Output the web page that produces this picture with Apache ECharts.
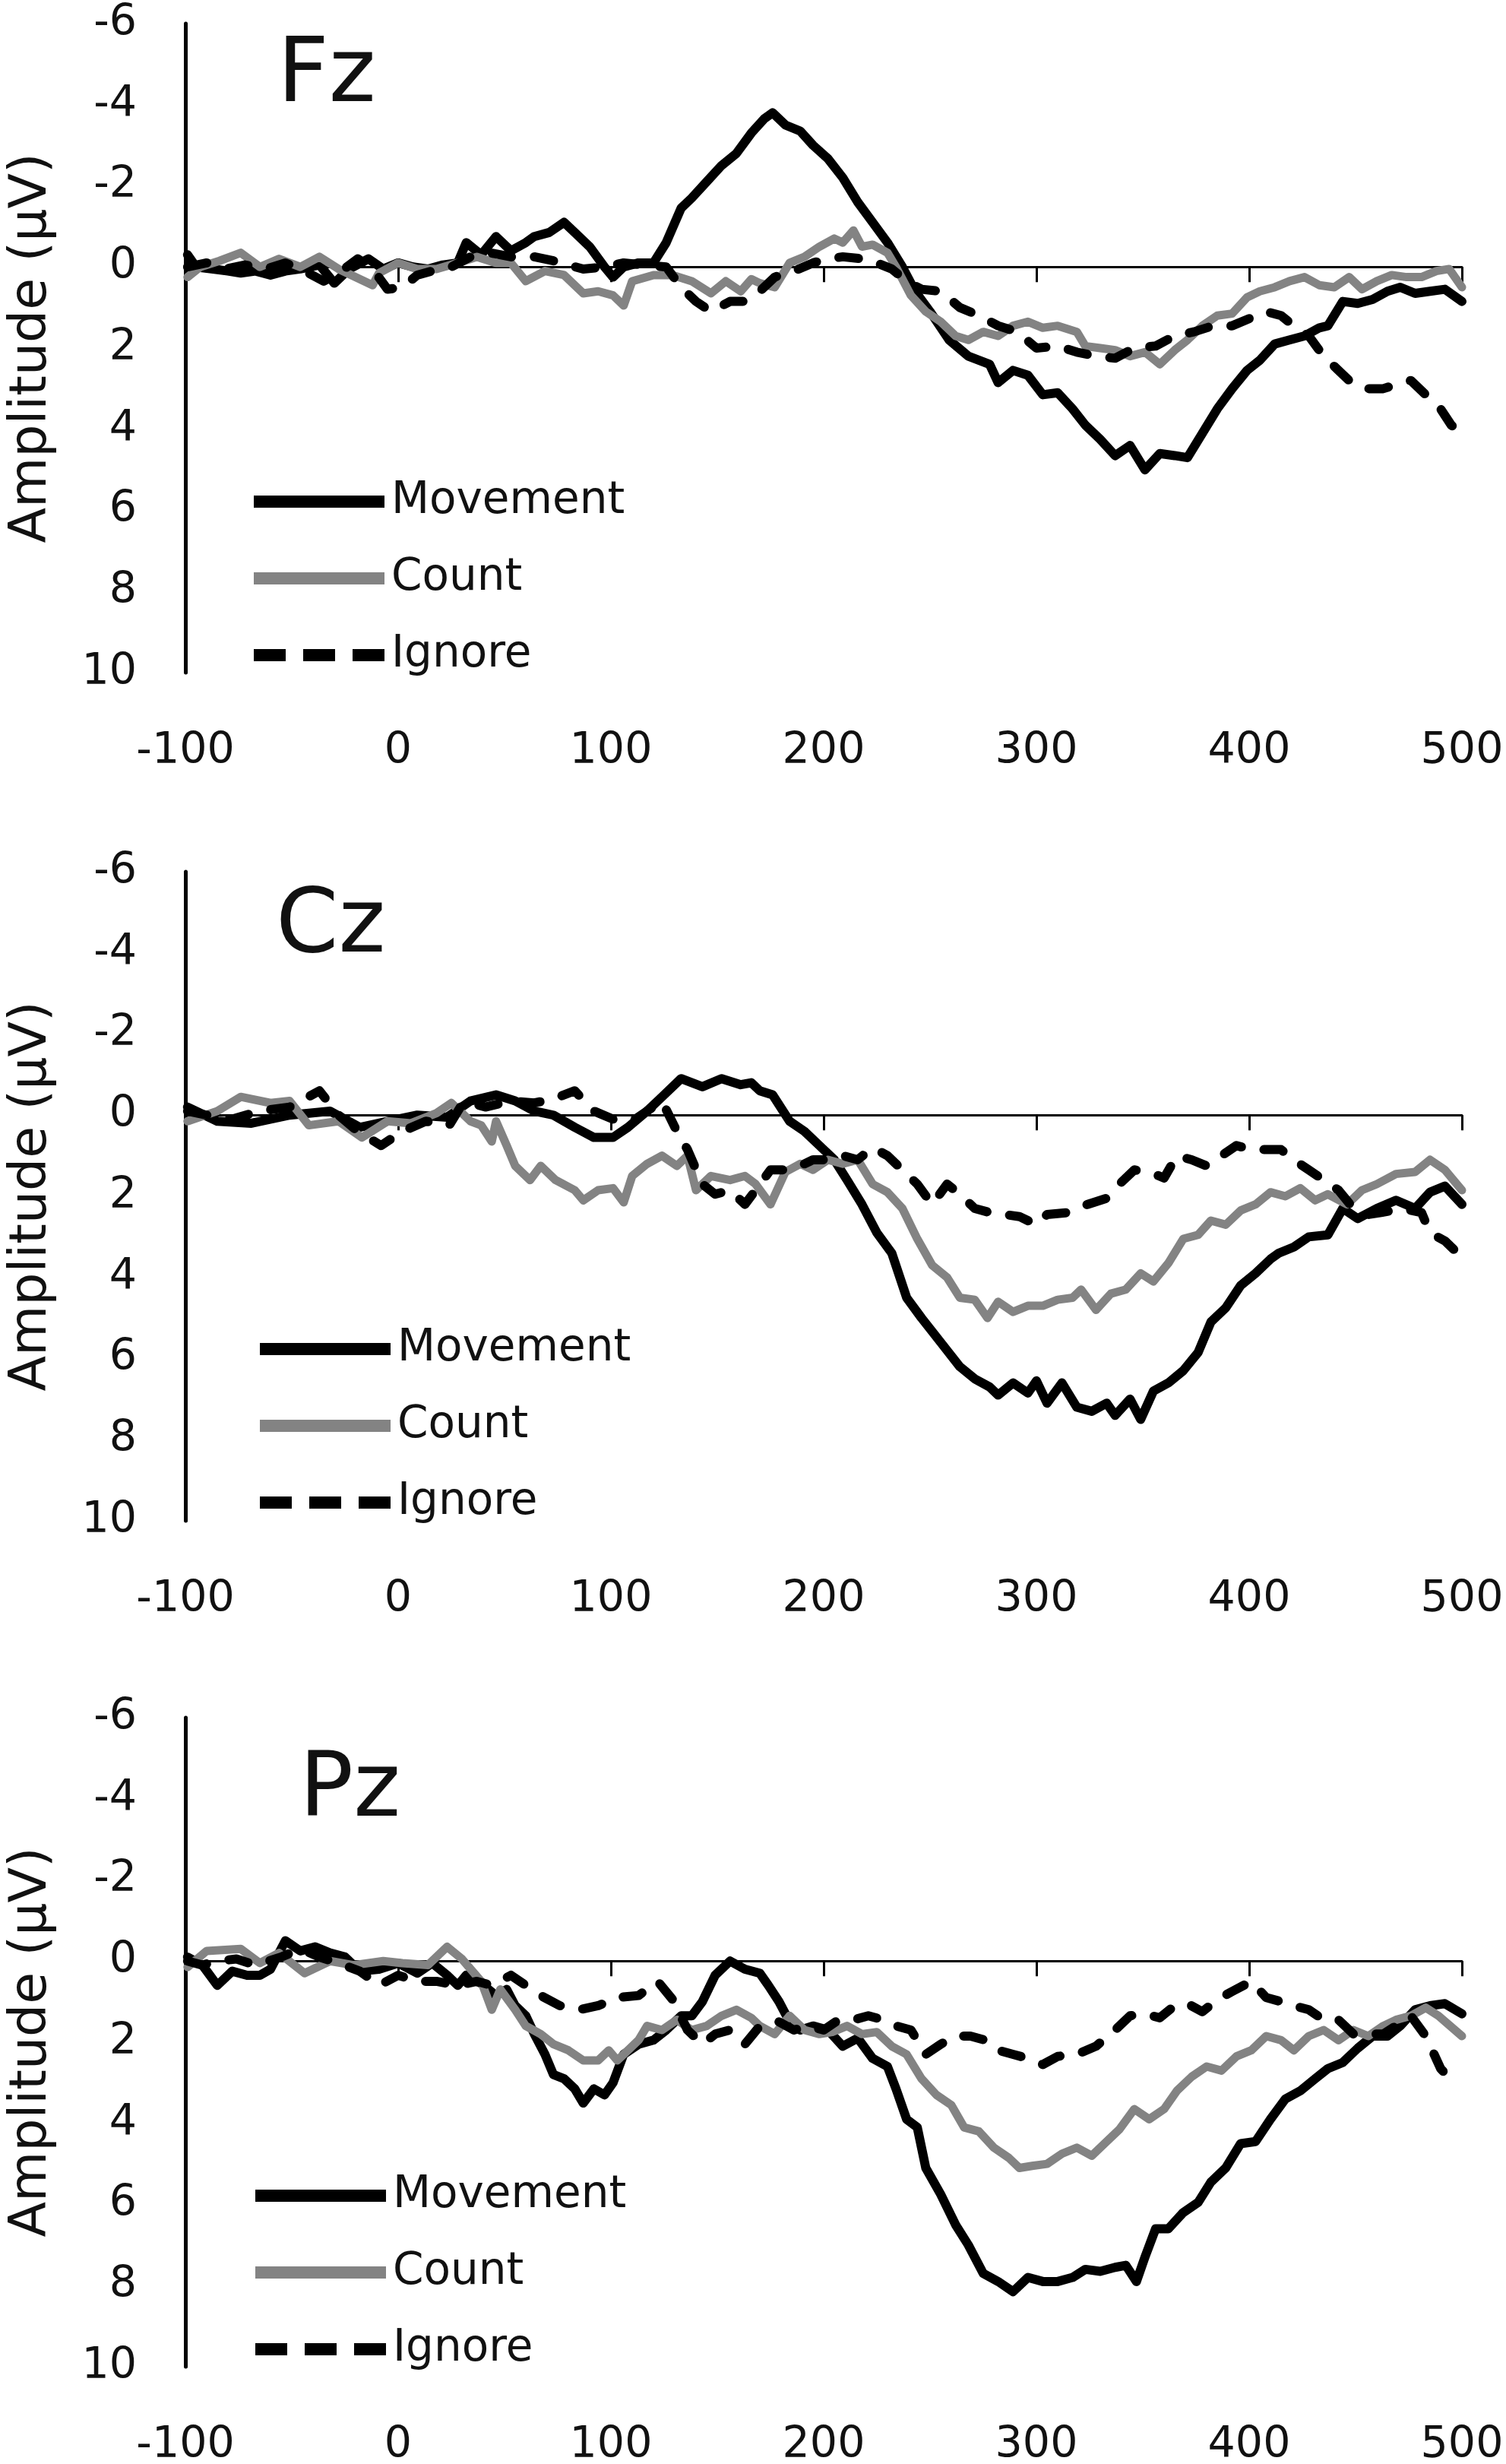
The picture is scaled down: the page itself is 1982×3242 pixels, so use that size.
<!DOCTYPE html>
<html><head><meta charset="utf-8">
<script src="https://cdn.jsdelivr.net/npm/echarts@6/dist/echarts.min.js"></script>
<style>html,body{margin:0;padding:0;background:#fff}#c{width:1982px;height:3242px}</style>
</head><body><div id="c"></div><script>
// ---- data (time in ms, amplitude in µV) ----
const panelNames = ['Fz', 'Cz', 'Pz'];
const seriesNames = ['Movement', 'Count', 'Ignore'];
const xTicks = [-100, 0, 100, 200, 300, 400, 500];
const yTicks = [-6, -4, -2, 0, 2, 4, 6, 8, 10];

const fzMovement = [[-99,-0.3],[-95,0.0],[-87,0.05],[-80,0.1],[-74,0.15],[-67,0.1],[-60,0.2],[-53,0.1],[-46,0.05],[-37,-0.05],[-30,0.4],[-23,0.05],[-14,-0.2],[-7,0.05],[0,-0.1],[7,0.0],[14,0.05],[21,-0.05],[28,-0.1],[32,-0.6],[39,-0.3],[46,-0.75],[53,-0.4],[60,-0.6],[64,-0.75],[71,-0.85],[78,-1.1],[83,-0.85],[90,-0.5],[97,0.0],[101,0.25],[106,0.0],[113,-0.1],[120,-0.1],[126,-0.6],[133,-1.45],[138,-1.7],[145,-2.1],[152,-2.5],[159,-2.8],[166,-3.3],[172,-3.65],[176,-3.8],[182,-3.5],[189,-3.35],[195,-3.0],[202,-2.67],[209,-2.2],[216,-1.6],[223,-1.1],[230,-0.6],[237,0.0],[243,0.6],[250,1.1],[259,1.8],[268,2.2],[278,2.4],[282,2.85],[289,2.55],[296,2.67],[303,3.15],[310,3.1],[317,3.5],[323,3.9],[330,4.25],[337,4.65],[344,4.4],[351,5.0],[358,4.6],[365,4.65],[371,4.7],[378,4.1],[385,3.5],[392,3.0],[399,2.55],[405,2.3],[412,1.9],[419,1.8],[426,1.7],[433,1.5],[437,1.45],[444,0.85],[451,0.9],[458,0.8],[465,0.6],[471,0.5],[478,0.65],[485,0.6],[492,0.55],[500,0.85]];
const fzCount = [[-99,0.25],[-93,0.0],[-84,-0.15],[-74,-0.35],[-65,0.0],[-56,-0.2],[-46,0.0],[-37,-0.25],[-28,0.05],[-12,0.45],[-9,0.15],[0,-0.1],[9,0.05],[18,0.05],[28,-0.1],[37,-0.25],[46,-0.1],[53,-0.1],[60,0.35],[69,0.1],[78,0.2],[87,0.65],[94,0.6],[101,0.7],[106,0.95],[110,0.35],[120,0.2],[129,0.2],[138,0.35],[147,0.65],[154,0.35],[161,0.6],[166,0.3],[170,0.4],[177,0.5],[184,-0.1],[191,-0.25],[198,-0.5],[205,-0.7],[209,-0.6],[214,-0.9],[218,-0.5],[223,-0.55],[230,-0.35],[234,0.0],[241,0.7],[248,1.1],[255,1.35],[262,1.7],[268,1.8],[275,1.6],[282,1.7],[289,1.45],[296,1.35],[303,1.5],[310,1.45],[319,1.6],[323,1.95],[330,2.0],[337,2.05],[344,2.2],[351,2.1],[358,2.4],[365,2.05],[371,1.8],[378,1.45],[385,1.2],[392,1.15],[399,0.75],[405,0.6],[412,0.5],[419,0.35],[426,0.25],[433,0.45],[440,0.5],[447,0.25],[453,0.55],[460,0.35],[467,0.2],[474,0.25],[481,0.25],[488,0.1],[494,0.05],[500,0.5]];
const fzIgnore = [[-99,0.0],[-90,-0.1],[-81,0.05],[-72,-0.05],[-62,0.05],[-53,-0.1],[-44,0.1],[-35,0.35],[-28,0.15],[-19,-0.2],[-12,0.05],[-5,0.55],[2,0.5],[9,0.2],[16,0.1],[25,0.0],[34,-0.25],[43,-0.35],[53,-0.25],[64,-0.25],[73,-0.15],[87,0.05],[97,0.0],[106,-0.1],[115,-0.05],[126,0.0],[133,0.5],[140,0.85],[147,1.1],[156,0.85],[163,0.85],[170,0.6],[177,0.25],[186,0.1],[195,-0.1],[202,-0.2],[209,-0.25],[218,-0.2],[225,-0.1],[232,0.05],[239,0.35],[246,0.55],[255,0.6],[264,1.0],[273,1.2],[282,1.45],[291,1.6],[300,2.0],[310,1.95],[319,2.1],[328,2.2],[337,2.25],[346,2.0],[356,1.95],[365,1.7],[374,1.6],[383,1.45],[392,1.45],[401,1.25],[408,1.1],[415,1.2],[421,1.45],[428,1.7],[435,2.2],[442,2.55],[449,2.9],[456,3.0],[463,3.0],[469,2.9],[476,2.8],[483,3.15],[490,3.5],[495,3.9],[500,4.1]];

const czMovement = [[-99,-0.2],[-85,0.15],[-69,0.2],[-51,0.0],[-32,-0.1],[-18,0.3],[-5,0.15],[9,0.0],[23,0.05],[34,-0.35],[46,-0.5],[55,-0.35],[64,-0.1],[73,0.0],[83,0.3],[92,0.55],[101,0.55],[108,0.3],[117,-0.1],[124,-0.45],[133,-0.9],[143,-0.7],[152,-0.9],[161,-0.75],[166,-0.8],[170,-0.6],[176,-0.5],[184,0.15],[191,0.4],[198,0.75],[205,1.1],[211,1.6],[218,2.2],[225,2.9],[232,3.4],[239,4.5],[246,5.0],[255,5.6],[264,6.2],[271,6.5],[278,6.7],[282,6.9],[289,6.6],[296,6.85],[300,6.55],[305,7.1],[312,6.6],[319,7.2],[326,7.3],[333,7.1],[337,7.4],[344,7.0],[349,7.5],[355,6.8],[362,6.6],[369,6.3],[376,5.85],[382,5.1],[389,4.75],[396,4.2],[403,3.9],[410,3.55],[414,3.4],[421,3.25],[428,3.0],[437,2.95],[444,2.3],[451,2.55],[460,2.3],[469,2.1],[478,2.3],[485,1.9],[492,1.75],[500,2.2]];
const czCount = [[-99,0.15],[-85,-0.1],[-74,-0.45],[-60,-0.3],[-51,-0.35],[-42,0.25],[-28,0.15],[-17,0.55],[-5,0.15],[6,0.2],[18,-0.05],[25,-0.3],[34,0.15],[39,0.25],[44,0.65],[46,0.15],[51,0.75],[55,1.25],[62,1.6],[67,1.25],[74,1.6],[83,1.85],[87,2.1],[94,1.85],[101,1.8],[106,2.15],[110,1.5],[117,1.2],[124,1.0],[131,1.25],[136,1.0],[140,1.85],[147,1.5],[156,1.6],[163,1.5],[168,1.7],[175,2.2],[182,1.4],[189,1.2],[195,1.35],[202,1.1],[209,1.2],[216,1.1],[223,1.7],[230,1.9],[237,2.3],[244,3.05],[251,3.7],[258,4.0],[264,4.5],[271,4.55],[277,5.0],[282,4.6],[289,4.85],[296,4.7],[303,4.7],[310,4.55],[317,4.5],[321,4.3],[328,4.8],[335,4.4],[342,4.3],[349,3.9],[355,4.1],[362,3.65],[369,3.05],[376,2.95],[382,2.6],[389,2.7],[396,2.35],[403,2.2],[410,1.9],[417,2.0],[424,1.8],[431,2.1],[437,1.95],[446,2.2],[453,1.85],[460,1.7],[469,1.45],[478,1.4],[485,1.1],[492,1.35],[500,1.85]];
const czIgnore = [[-99,-0.1],[-90,0.0],[-78,0.1],[-65,-0.1],[-51,-0.2],[-37,-0.6],[-28,0.0],[-19,0.4],[-8,0.75],[2,0.4],[13,0.15],[24,0.25],[31,-0.35],[41,-0.2],[53,-0.35],[64,-0.3],[73,-0.4],[83,-0.6],[92,-0.1],[101,0.1],[110,0.15],[117,-0.1],[124,-0.35],[131,0.4],[136,0.85],[143,1.7],[149,1.95],[156,1.85],[163,2.2],[168,1.85],[175,1.35],[182,1.35],[189,1.25],[195,1.1],[202,1.1],[209,1.0],[216,1.1],[223,0.8],[230,1.0],[237,1.35],[244,1.7],[251,2.2],[258,1.7],[264,1.95],[271,2.3],[278,2.4],[285,2.45],[292,2.5],[300,2.7],[305,2.45],[315,2.4],[324,2.2],[333,2.05],[339,1.7],[346,1.35],[353,1.4],[360,1.55],[366,1.0],[373,1.1],[380,1.25],[387,1.0],[394,0.75],[401,0.85],[408,0.85],[415,0.85],[421,1.1],[428,1.35],[435,1.6],[442,1.85],[449,2.3],[456,2.45],[462,2.4],[472,2.3],[481,2.4],[485,2.9],[492,3.1],[498,3.4]];

const pzMovement = [[-99,-0.1],[-92,0.1],[-85,0.6],[-78,0.25],[-71,0.35],[-65,0.35],[-60,0.2],[-53,-0.5],[-46,-0.25],[-39,-0.35],[-32,-0.2],[-25,-0.1],[-18,0.25],[-9,0.2],[0,0.05],[9,0.3],[16,0.05],[23,0.35],[28,0.6],[32,0.35],[39,0.55],[46,0.85],[51,0.7],[55,1.1],[60,1.35],[64,1.8],[69,2.3],[73,2.8],[78,2.9],[83,3.15],[87,3.5],[92,3.15],[97,3.3],[101,3.0],[106,2.3],[113,2.05],[120,1.95],[126,1.7],[133,1.35],[138,1.35],[143,1.0],[149,0.35],[156,0.0],[163,0.2],[170,0.3],[174,0.6],[179,1.0],[184,1.5],[189,1.7],[195,1.6],[202,1.7],[209,2.1],[216,1.9],[223,2.4],[230,2.6],[234,3.15],[239,3.9],[244,4.1],[248,5.1],[255,5.75],[262,6.5],[268,7.0],[275,7.7],[282,7.9],[289,8.15],[296,7.8],[303,7.9],[310,7.9],[317,7.8],[323,7.6],[330,7.65],[337,7.55],[342,7.5],[347,7.9],[351,7.3],[356,6.6],[362,6.6],[369,6.2],[376,5.95],[382,5.45],[389,5.1],[396,4.5],[403,4.45],[410,3.9],[417,3.4],[424,3.2],[431,2.9],[437,2.65],[444,2.5],[451,2.15],[458,1.85],[465,1.85],[471,1.6],[478,1.2],[485,1.1],[492,1.05],[500,1.3]];
const pzCount = [[-99,0.15],[-90,-0.25],[-74,-0.3],[-65,0.05],[-56,-0.2],[-44,0.3],[-32,0.0],[-21,0.1],[-7,0.0],[2,0.05],[14,0.1],[23,-0.35],[30,-0.05],[39,0.5],[44,1.2],[48,0.7],[55,1.2],[60,1.6],[67,1.8],[73,2.05],[80,2.2],[87,2.45],[94,2.45],[99,2.2],[103,2.45],[108,2.2],[113,1.95],[117,1.6],[124,1.7],[131,1.45],[138,1.7],[145,1.6],[152,1.35],[159,1.2],[166,1.4],[170,1.6],[177,1.8],[184,1.35],[191,1.7],[198,1.8],[204,1.75],[211,1.6],[218,1.8],[225,1.75],[232,2.1],[239,2.3],[246,2.9],[253,3.3],[260,3.55],[266,4.1],[273,4.2],[280,4.6],[287,4.85],[292,5.1],[298,5.05],[305,5.0],[312,4.75],[319,4.6],[326,4.8],[333,4.45],[339,4.15],[346,3.65],[353,3.9],[360,3.65],[366,3.2],[373,2.85],[380,2.6],[387,2.7],[394,2.35],[401,2.2],[408,1.85],[415,1.95],[421,2.2],[428,1.85],[435,1.7],[442,1.95],[449,1.7],[456,1.85],[463,1.6],[469,1.45],[476,1.35],[483,1.15],[489,1.35],[500,1.85]];
const pzIgnore = [[-99,0.0],[-92,0.1],[-85,0.0],[-76,-0.05],[-67,0.1],[-55,-0.1],[-46,-0.3],[-37,-0.1],[-28,0.05],[-18,0.25],[-9,0.6],[0,0.35],[9,0.5],[18,0.5],[28,0.6],[37,0.5],[44,0.6],[53,0.35],[60,0.6],[67,0.85],[76,1.1],[85,1.2],[94,1.1],[103,0.9],[113,0.85],[122,0.5],[129,0.95],[136,1.7],[143,2.05],[149,1.8],[156,1.7],[163,2.05],[170,1.6],[179,1.5],[186,1.7],[193,1.6],[200,1.7],[207,1.45],[214,1.45],[221,1.35],[228,1.45],[234,1.6],[241,1.7],[248,2.3],[255,2.05],[262,1.85],[269,1.85],[276,1.95],[282,2.2],[289,2.3],[296,2.4],[303,2.55],[310,2.35],[319,2.3],[328,2.1],[337,1.7],[344,1.35],[351,1.3],[358,1.4],[365,1.1],[371,1.05],[378,1.25],[385,0.95],[392,0.75],[401,0.5],[408,0.9],[415,1.0],[421,1.1],[428,1.2],[435,1.45],[442,1.45],[449,1.8],[456,1.8],[463,1.8],[469,1.6],[476,1.35],[483,1.85],[490,2.65],[496,3.0]];

const panelData = [
  [fzMovement, fzCount, fzIgnore],
  [czMovement, czCount, czIgnore],
  [pzMovement, pzCount, pzIgnore]
];

// ---- layout / style ----
const FONT = 'DejaVu Sans';
const gridTops = [31, 1147, 2260];
const gridH = 854;
const titlePos = [[360, 38], [358, 1157], [389, 2294]];
const legendPos = [[329, 626], [337, 1741], [331, 2855]];
const lineStyles = [
  { color: '#000000', width: 12, type: 'solid', cap: 'round', join: 'round' },
  { color: '#838383', width: 11, type: 'solid', cap: 'round', join: 'round' },
  { color: '#000000', width: 12, type: [26, 30], cap: 'round', join: 'round' }
];
const legendIcons = [
  'path://M0,0h172v16h-172z',
  'path://M0,0h172v16h-172z',
  'path://M0,0h42v16h-42z M65,0h42v16h-42z M130,0h42v16h-42z'
];

const option = {
  animation: false,
  backgroundColor: '#ffffff',
  title: panelNames.map((n, i) => ({
    text: n, left: titlePos[i][0], top: titlePos[i][1],
    textStyle: { fontFamily: FONT, fontSize: 118, fontWeight: 'normal', color: '#111' }
  })),
  legend: panelNames.map((n, i) => ({
    data: seriesNames.map((s, k) => ({ name: s, icon: legendIcons[k] })),
    orient: 'vertical', left: legendPos[i][0], top: legendPos[i][1],
    itemWidth: 172, itemHeight: 16, itemGap: 43, selectedMode: false,
    textStyle: { fontFamily: FONT, fontSize: 58, color: '#111', padding: [0, 0, 0, 4] }
  })),
  grid: panelNames.map((n, i) => ({
    left: 244, width: 1680, top: gridTops[i], height: gridH,
    containLabel: false, outerBoundsMode: 'none'
  })),
  xAxis: [],
  yAxis: panelNames.map((n, i) => ({
    gridIndex: i, type: 'value', inverse: true, min: yTicks[0], max: yTicks[yTicks.length - 1], interval: 2,
    axisLine: { show: true, onZero: false, lineStyle: { color: '#000', width: 5 } },
    axisTick: { show: false },
    axisLabel: { margin: 64, fontFamily: FONT, fontSize: 57, color: '#111' },
    splitLine: { show: false },
    name: 'Amplitude (µV)', nameLocation: 'middle', nameGap: 168,
    nameTextStyle: { fontFamily: FONT, fontSize: 68, color: '#111' }
  })),
  series: []
};

panelNames.forEach((n, i) => {
  // axis carrying the tick labels, along the bottom of the panel
  option.xAxis.push({
    gridIndex: i, type: 'value', position: 'bottom', min: xTicks[0], max: xTicks[xTicks.length - 1], interval: 100,
    axisLine: { show: false, onZero: false },
    axisTick: { show: false },
    axisLabel: { margin: 76, fontFamily: FONT, fontSize: 57, color: '#111' },
    splitLine: { show: false }
  });
  // zero line with its ticks
  option.xAxis.push({
    gridIndex: i, type: 'value', position: 'bottom', min: xTicks[0], max: xTicks[xTicks.length - 1], interval: 100,
    axisLine: { show: true, onZero: true, lineStyle: { color: '#000', width: 3 } },
    axisTick: { show: true, length: 20, lineStyle: { color: '#000', width: 3 } },
    axisLabel: { show: false },
    splitLine: { show: false }
  });
});

panelData.forEach((arrs, i) => {
  arrs.forEach((d, k) => {
    option.series.push({
      name: seriesNames[k], type: 'line', xAxisIndex: 2 * i, yAxisIndex: i,
      data: d, symbol: 'none', showSymbol: false,
      itemStyle: { color: lineStyles[k].color },
      lineStyle: lineStyles[k]
    });
  });
});

const chart = echarts.init(document.getElementById('c'));
chart.setOption(option);
</script></body></html>
